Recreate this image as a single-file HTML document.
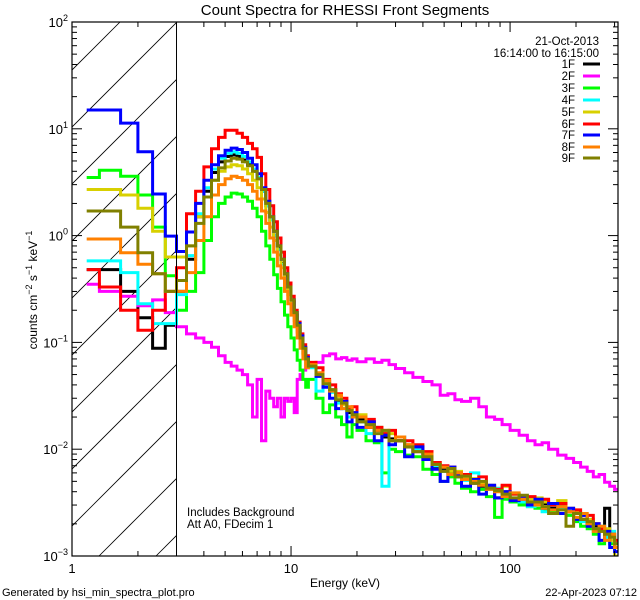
<!DOCTYPE html>
<html><head><meta charset="utf-8"><style>
html,body{margin:0;padding:0;background:#fff;}
svg{display:block;font-family:"Liberation Sans",sans-serif;}
</style></head><body>
<svg id="chart" width="640" height="600" viewBox="0 0 640 600" xmlns="http://www.w3.org/2000/svg">
<rect width="640" height="600" fill="#fff"/>
<text x="345" y="15" font-size="15" text-anchor="middle">Count Spectra for RHESSI Front Segments</text>
<text x="345" y="587" font-size="12" text-anchor="middle">Energy (keV)</text>
<text transform="translate(37,290) rotate(-90)" font-size="12" text-anchor="middle">counts cm<tspan dy="-5" font-size="9">−2</tspan><tspan dy="5"> s</tspan><tspan dy="-5" font-size="9">−1</tspan><tspan dy="5"> keV</tspan><tspan dy="-5" font-size="9">−1</tspan></text>
<text x="2" y="596" font-size="11">Generated by hsi_min_spectra_plot.pro</text>
<text x="637" y="596" font-size="11" text-anchor="end">22-Apr-2023 07:12</text>
<text x="599" y="45" font-size="11.5" text-anchor="end">21-Oct-2013</text>
<text x="599" y="57" font-size="11.5" text-anchor="end">16:14:00 to 16:15:00</text>
<text x="187" y="516" font-size="11.5">Includes Background</text>
<text x="187" y="528" font-size="11.5">Att A0, FDecim 1</text>
<g id="hatch"></g>
<g id="series"></g>
<g id="axes"></g>
<g id="legend"></g>
</svg>
<script>
const edges = [1.1667,1.3333,1.6667,2,2.3333,2.6667,3,3.333,3.667,4,4.333,4.667,5,5.333,5.667,6,6.333,6.667,7,7.333,7.667,8,8.333,8.667,9,9.333,9.667,10,10.333,10.667,11,11.333,11.667,12,13,14,15,16,17,18,19,20,22,24,26,28,30,33,36,40,44,48,52,56,60,66,72,78,85,92,100,110,120,130,140,150,165,180,195,210,225,240,255,270,285,300,311];
const seriesNames = ["1F","2F","3F","4F","5F","6F","7F","8F","9F"];
const seriesColors = ["#000000","#ff00ff","#00ff00","#00ffff","#d8d000","#ff0000","#0000ff","#ff8000","#808000"];
const s1F = [0.48,0.48,0.3,0.17,0.088,0.145, 0.3,0.6,1.5,2.6,3.9,4.9,5.5,5.7,5.5,5.1,4.6,4.0,3.4,2.6,1.9,1.4,1.0,0.75,0.55,0.42,0.31,0.24,0.18,0.14,0.11,0.088,0.07, 0.062,0.05,0.04,0.036,0.028,0.027,0.022,0.02,0.019,0.016,0.015,0.013,0.0125,0.012,0.0105,0.0095,0.0085,0.0068,0.0065,0.006,0.0055,0.0052,0.0048,0.0045,0.0042,0.0035,0.004,0.0032,0.0034,0.0033,0.003,0.0031,0.0028,0.0029,0.0026,0.0025,0.0022,0.002,0.0019,0.0018,0.0028,0.0016,0.0013];
const s2F = [0.35,0.3,0.27,0.22,0.25,0.19, 0.14,0.12,0.11,0.1,0.09,0.075,0.065,0.06,0.055,0.05,0.04,0.02,0.045,0.012,0.035,0.03,0.025,0.03,0.02,0.03,0.028,0.03,0.022,0.045,0.05,0.055,0.06, 0.06,0.065,0.075,0.078,0.07,0.072,0.068,0.07,0.066,0.07,0.065,0.068,0.062,0.057,0.052,0.047,0.043,0.04,0.032,0.033,0.029,0.028,0.03,0.025,0.02,0.019,0.017,0.015,0.0135,0.012,0.011,0.0115,0.01,0.0088,0.0082,0.0075,0.0068,0.0062,0.0055,0.0058,0.0049,0.0045,0.0042];
const s3F = [3.5,4.1,3.6,2.4,1.2,0.42, 0.2,0.3,0.45,0.9,1.5,2.0,2.3,2.5,2.45,2.3,2.1,1.8,1.5,1.1,0.8,0.6,0.43,0.32,0.24,0.18,0.14,0.11,0.085,0.068,0.055,0.045,0.038, 0.045,0.03,0.022,0.026,0.02,0.017,0.013,0.017,0.015,0.012,0.0115,0.006,0.01,0.0095,0.0088,0.0085,0.0065,0.0058,0.005,0.0055,0.0048,0.0043,0.004,0.0042,0.0036,0.0023,0.0034,0.0032,0.003,0.0029,0.0028,0.0027,0.0026,0.0025,0.0024,0.0021,0.0019,0.0018,0.0016,0.0013,0.0015,0.0013,0.0012];
const s4F = [0.58,0.58,0.45,0.23,0.15,0.15, 0.28,0.65,1.6,2.8,4.2,5.3,5.9,6.1,5.9,5.5,4.9,4.2,3.5,2.6,1.9,1.4,1.0,0.74,0.54,0.4,0.3,0.23,0.17,0.13,0.1,0.08,0.065, 0.058,0.035,0.04,0.034,0.027,0.024,0.02,0.021,0.018,0.014,0.016,0.0045,0.012,0.013,0.011,0.01,0.0088,0.007,0.0062,0.0065,0.0055,0.0051,0.006,0.0049,0.0042,0.0043,0.0036,0.0038,0.0032,0.0029,0.0033,0.0026,0.0031,0.0028,0.0026,0.0025,0.0021,0.0022,0.0018,0.0019,0.0015,0.0017,0.0014];
const s5F = [2.7,2.7,2.4,1.8,1.1,0.63, 0.63,0.8,1.5,2.3,3.3,4.0,4.4,4.6,4.5,4.2,3.8,3.3,2.8,2.2,1.65,1.2,0.9,0.66,0.5,0.37,0.28,0.21,0.16,0.125,0.098,0.078,0.063, 0.063,0.05,0.043,0.036,0.031,0.026,0.024,0.022,0.021,0.018,0.016,0.014,0.014,0.013,0.011,0.0105,0.009,0.0075,0.0068,0.0062,0.0062,0.0055,0.0053,0.0048,0.0046,0.0042,0.0045,0.0038,0.0036,0.0034,0.0035,0.0032,0.003,0.0033,0.0028,0.0026,0.0024,0.0022,0.002,0.0017,0.0018,0.0014,0.001];
const s6F = [0.48,0.33,0.2,0.13,0.2,0.3, 0.5,1.6,2.6,4.4,6.5,8.3,9.7,9.7,9.1,8.3,7.3,6.5,5.4,3.8,2.7,1.9,1.35,0.95,0.7,0.5,0.36,0.27,0.2,0.155,0.12,0.095,0.075, 0.065,0.058,0.045,0.04,0.033,0.03,0.024,0.025,0.02,0.019,0.016,0.014,0.015,0.012,0.012,0.011,0.0095,0.0075,0.007,0.0068,0.006,0.0058,0.0052,0.0055,0.0045,0.0042,0.0046,0.0038,0.0034,0.0036,0.0031,0.0034,0.003,0.0031,0.0026,0.0027,0.0022,0.0024,0.002,0.0018,0.0017,0.0016,0.0014];
const s7F = [15,15,11.3,6.1,2.45,0.99, 0.71,1.08,2.0,3.3,4.6,5.6,6.3,6.6,6.4,6.0,5.3,4.6,3.8,2.8,2.1,1.5,1.1,0.8,0.6,0.44,0.33,0.25,0.19,0.15,0.115,0.09,0.072, 0.06,0.048,0.038,0.03,0.024,0.028,0.018,0.022,0.016,0.018,0.012,0.0135,0.011,0.013,0.0085,0.0105,0.008,0.0065,0.005,0.0068,0.0058,0.0045,0.0052,0.0038,0.0046,0.0035,0.004,0.0033,0.0036,0.003,0.0034,0.0028,0.0031,0.0025,0.0028,0.0022,0.0024,0.0019,0.002,0.0014,0.0017,0.0012,0.0011];
const s8F = [0.93,0.93,0.69,0.54,0.44,0.3, 0.3,0.45,0.9,1.5,2.4,3.0,3.4,3.6,3.5,3.3,3.0,2.6,2.2,1.7,1.3,0.95,0.7,0.52,0.4,0.3,0.23,0.18,0.14,0.11,0.088,0.07,0.058, 0.062,0.052,0.044,0.035,0.032,0.024,0.025,0.02,0.02,0.016,0.015,0.015,0.012,0.013,0.011,0.0095,0.009,0.0072,0.0068,0.0058,0.006,0.0052,0.005,0.0046,0.0042,0.004,0.0036,0.0039,0.0034,0.0032,0.003,0.0028,0.0027,0.0029,0.0026,0.0023,0.0025,0.002,0.0017,0.0019,0.0014,0.0016,0.0012];
const s9F = [1.7,1.7,1.2,0.69,0.44,0.3, 0.38,0.8,1.3,2.3,3.3,4.3,5.0,5.3,5.2,4.9,4.5,4.0,3.4,2.7,2.0,1.5,1.1,0.8,0.6,0.44,0.33,0.25,0.19,0.145,0.11,0.088,0.07, 0.06,0.05,0.041,0.036,0.029,0.027,0.023,0.021,0.018,0.017,0.014,0.015,0.012,0.012,0.0105,0.0095,0.0085,0.0072,0.0062,0.0066,0.0055,0.0056,0.0048,0.005,0.0043,0.0041,0.0038,0.0035,0.0037,0.0032,0.0032,0.0029,0.0025,0.0027,0.0019,0.0025,0.0022,0.0021,0.0018,0.0017,0.0016,0.0015,0.0013];
const seriesValues = [s1F,s2F,s3F,s4F,s5F,s6F,s7F,s8F,s9F];
const xTickLabels = ["1","10","100"];
const yTickExps = ["-3","-2","-1","0","1","2"];

const NS = "http://www.w3.org/2000/svg";
const L = 72, R = 618, T = 22, B = 556;
const XMIN = 1, XMAX = 311, YMIN = 1e-3, YMAX = 100;
function xs(e){ return L + (Math.log10(e) - Math.log10(XMIN)) / (Math.log10(XMAX) - Math.log10(XMIN)) * (R - L); }
function ys(v){ return B - (Math.log10(v) - Math.log10(YMIN)) / (Math.log10(YMAX) - Math.log10(YMIN)) * (B - T); }
function mk(tag, attrs, parent){ const el = document.createElementNS(NS, tag); for (const k in attrs) el.setAttribute(k, attrs[k]); parent.appendChild(el); return el; }
const svg = document.getElementById('chart');
const defs = mk('defs', {}, svg);
const cp = mk('clipPath', {id:'plotclip'}, defs);
mk('rect', {x:L, y:T, width:R-L, height:B-T}, cp);
const cp2 = mk('clipPath', {id:'hatchclip'}, defs);
mk('rect', {x:L, y:T, width:xs(3)-L, height:B-T}, cp2);

// hatch
const hatch = document.getElementById('hatch');
hatch.setAttribute('clip-path','url(#hatchclip)');
for (let k = -12; k < 4; k++) {
  const x0 = 99 + 57*k;
  const ln = mk('line', {x1:x0, y1:B, x2:x0+600, y2:B-600, stroke:'#000', 'stroke-width':0.8}, hatch);
  
  
}
const vl = mk('line', {x1:xs(3), y1:T, x2:xs(3), y2:B, stroke:'#000', 'stroke-width':1}, svg);



// series
const sg = document.getElementById('series');
sg.setAttribute('clip-path','url(#plotclip)');
seriesValues.forEach((vals, i) => {
  let d = '';
  for (let j = 0; j < vals.length; j++) {
    const y = ys(Math.max(vals[j], 5e-4));
    const xa = xs(edges[j]), xb = xs(edges[j+1]);
    d += (j === 0 ? 'M' : 'L') + xa.toFixed(1) + ' ' + y.toFixed(1) + 'L' + xb.toFixed(1) + ' ' + y.toFixed(1);
  }
  const p = mk('path', {d:d, fill:'none', stroke:seriesColors[i], 'stroke-width':3, 'stroke-linejoin':'miter'}, sg);
  
  
});

// axes
const ax = document.getElementById('axes');
const frame = mk('rect', {x:L, y:T, width:R-L, height:B-T, fill:'none', stroke:'#000', 'stroke-width':1.2}, ax);


for (let dec = 0; dec <= 2; dec++) {
  for (let m = 1; m <= 9; m++) {
    const e = m * Math.pow(10, dec);
    if (e > XMAX) break;
    const x = xs(e), len = m === 1 ? 10 : 5;
    mk('line', {x1:x, y1:B, x2:x, y2:B-len, stroke:'#000'}, ax);
    mk('line', {x1:x, y1:T, x2:x, y2:T+len, stroke:'#000'}, ax);
  }
}
xTickLabels.forEach(lbl => {
  const t = mk('text', {x:xs(parseFloat(lbl)), y:B+17, 'font-size':13, 'text-anchor':'middle'}, ax);
  t.textContent = lbl;
  
  
});
for (let ex = -3; ex <= 2; ex++) {
  for (let m = 1; m <= 9; m++) {
    const v = m * Math.pow(10, ex);
    if (v > YMAX) break;
    const y = ys(v), len = m === 1 ? 10 : 5;
    mk('line', {x1:L, y1:y, x2:L+len, y2:y, stroke:'#000'}, ax);
    mk('line', {x1:R, y1:y, x2:R-len, y2:y, stroke:'#000'}, ax);
  }
}
yTickExps.forEach(ex => {
  const y = ys(Math.pow(10, parseFloat(ex)));
  const t = mk('text', {x:L-4, y:y+5, 'font-size':13, 'text-anchor':'end'}, ax);
  
  
  const a = mk('tspan', {}, t); a.textContent = '10';
  const b = mk('tspan', {dy:-6, 'font-size':9}, t); b.textContent = ex.replace('-', '−');
});

// legend
const lg = document.getElementById('legend');
const legendY = [64,76,88,100,112,124,135,147,158];
seriesNames.forEach((nm, i) => {
  const g = mk('g', {}, lg);
  
  
  const t = mk('text', {x:575, y:legendY[i]+4, 'font-size':11.5, 'text-anchor':'end'}, g);
  t.textContent = nm;
  mk('line', {x1:583, y1:legendY[i], x2:600, y2:legendY[i], stroke:seriesColors[i], 'stroke-width':3}, g);
});
</script>
</body></html>
